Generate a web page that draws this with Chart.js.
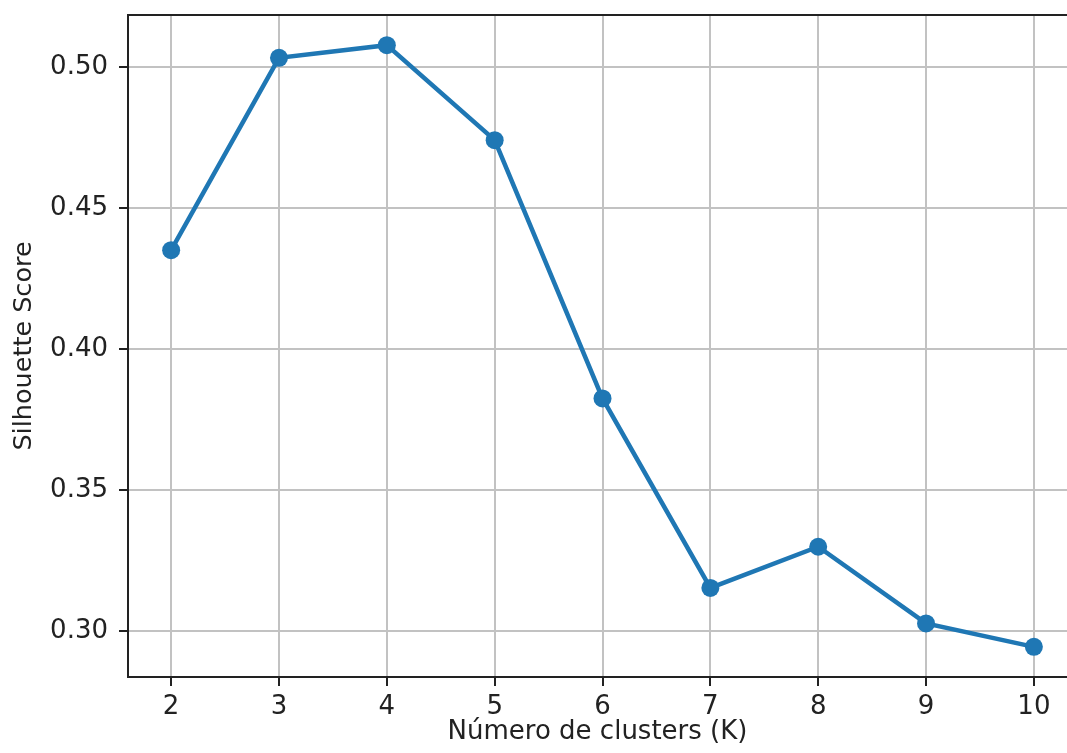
<!DOCTYPE html>
<html><head><meta charset="utf-8">
<script src="https://cdn.jsdelivr.net/npm/chart.js@4"></script>
<style>
html,body{margin:0;padding:0;overflow:hidden;background:#fff;width:1067px;height:753px}
#wrap{position:absolute;left:0;top:0;width:1067px;height:753px}
</style>
</head><body><div id="wrap"><canvas id="c" width="1067" height="753"></canvas></div>
<script>
const clusters = [2, 3, 4, 5, 6, 7, 8, 9, 10];
const silhouette = [0.435, 0.5032, 0.5077, 0.474, 0.3824, 0.3152, 0.3298, 0.3026, 0.2943];
const xTicks = [2, 3, 4, 5, 6, 7, 8, 9, 10];
const yTicks = [0.30, 0.35, 0.40, 0.45, 0.50];
const xLabel = 'Número de clusters (K)';
const yLabel = 'Silhouette Score';

const FONT = "'DejaVu Sans', sans-serif";
const TXT = '#222';
const GRID = '#c2c2c2';

const spines = {
  id: 'spines',
  afterDraw(chart) {
    const {ctx, chartArea: a} = chart;
    ctx.save();
    ctx.strokeStyle = TXT;
    ctx.lineWidth = 2;
    ctx.beginPath();
    ctx.moveTo(a.left, a.top);
    ctx.lineTo(chart.width, a.top);
    ctx.stroke();
    ctx.restore();
  }
};

new Chart(document.getElementById('c'), {
  type: 'line',
  data: {
    datasets: [{
      data: clusters.map((k, i) => ({x: k, y: silhouette[i]})),
      borderColor: '#1f77b4',
      backgroundColor: '#1f77b4',
      borderWidth: 4.5,
      pointRadius: 9,
      pointBorderWidth: 0,
      pointBackgroundColor: '#1f77b4',
      tension: 0,
      fill: false,
      clip: false
    }]
  },
  options: {
    responsive: false,
    animation: false,
    devicePixelRatio: 1,
    layout: {autoPadding: false, padding: {left: 0, right: 0, top: 15, bottom: 0}},
    plugins: {legend: {display: false}, tooltip: {enabled: false}},
    scales: {
      x: {
        type: 'linear',
        min: 1.6,
        max: 10.307,
        afterBuildTicks: s => { s.ticks = xTicks.map(v => ({value: v})); },
        afterFit: s => { s.height = 76; s.paddingLeft = 0; s.paddingRight = 0; },
        grid: {color: GRID, lineWidth: 2, tickLength: 9, tickColor: TXT, tickWidth: 2},
        border: {display: true, color: TXT, width: 2},
        ticks: {font: {family: FONT, size: 26}, color: TXT, padding: 6, maxRotation: 0,
                callback: v => String(v)},
        title: {display: true, text: xLabel, font: {family: FONT, size: 26}, color: TXT,
                padding: {top: 0, bottom: 5}}
      },
      y: {
        type: 'linear',
        min: 0.2836,
        max: 0.5184,
        afterBuildTicks: s => { s.ticks = yTicks.map(v => ({value: v})); },
        afterFit: s => { s.width = 128; s.paddingTop = 0; s.paddingBottom = 0; },
        grid: {color: GRID, lineWidth: 2, tickLength: 9, tickColor: TXT, tickWidth: 2},
        border: {display: true, color: TXT, width: 2},
        ticks: {font: {family: FONT, size: 26}, color: TXT, padding: 11,
                callback: v => Number(v).toFixed(2)},
        title: {display: true, text: yLabel, font: {family: FONT, size: 25.5}, color: TXT,
                padding: {top: 9, bottom: 0}}
      }
    }
  },
  plugins: [spines]
});
</script>
</body></html>
